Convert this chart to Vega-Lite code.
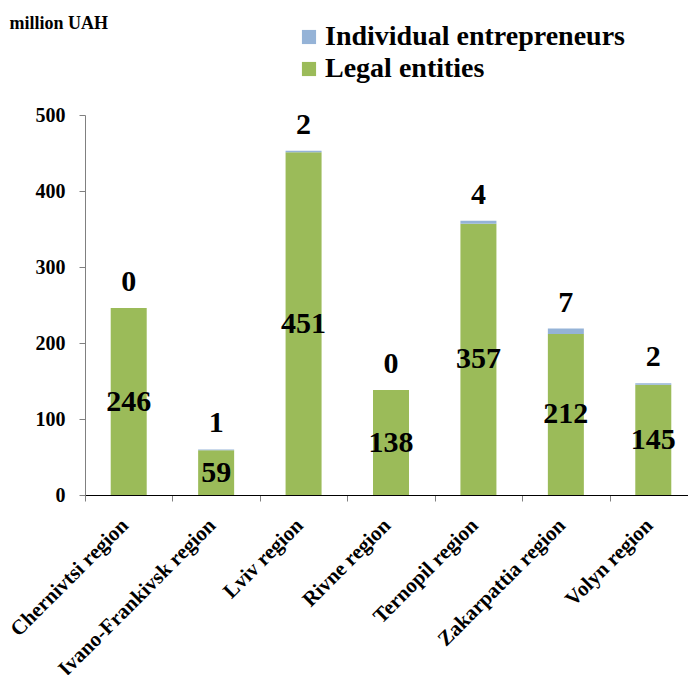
{
  "$schema": "https://vega.github.io/schema/vega-lite/v6.json",
  "autosize": "none",
  "width": 612,
  "height": 380,
  "padding": {"left": 85, "top": 115, "right": 0, "bottom": 180},
  "background": "white",
  "config": {
    "font": "Times New Roman, Liberation Serif, serif",
    "view": {"stroke": null}
  },
  "data": {
    "values": [
      {"region": "Chernivtsi region", "type": "Legal entities", "value": 246},
      {"region": "Chernivtsi region", "type": "Individual entrepreneurs", "value": 0},
      {"region": "Ivano-Frankivsk region", "type": "Legal entities", "value": 59},
      {"region": "Ivano-Frankivsk region", "type": "Individual entrepreneurs", "value": 1},
      {"region": "Lviv region", "type": "Legal entities", "value": 451},
      {"region": "Lviv region", "type": "Individual entrepreneurs", "value": 2},
      {"region": "Rivne region", "type": "Legal entities", "value": 138},
      {"region": "Rivne region", "type": "Individual entrepreneurs", "value": 0},
      {"region": "Ternopil region", "type": "Legal entities", "value": 357},
      {"region": "Ternopil region", "type": "Individual entrepreneurs", "value": 4},
      {"region": "Zakarpattia region", "type": "Legal entities", "value": 212},
      {"region": "Zakarpattia region", "type": "Individual entrepreneurs", "value": 7},
      {"region": "Volyn region", "type": "Legal entities", "value": 145},
      {"region": "Volyn region", "type": "Individual entrepreneurs", "value": 2}
    ]
  },
  "encoding": {
    "x": {
      "field": "region",
      "type": "nominal",
      "sort": null,
      "scale": {"paddingInner": 0, "paddingOuter": 0},
      "axis": {
        "title": null,
        "labelAngle": -45,
        "labelAlign": "right",
        "labelBaseline": "middle",
        "labelFont": "Times New Roman, Liberation Serif, serif",
        "labelFontSize": 21,
        "labelFontWeight": "bold",
        "labelColor": "black",
        "labelPadding": 21,
        "labelOffset": -4,
        "tickBand": "extent",
        "tickSize": 6,
        "tickColor": "#808080",
        "domainColor": "black",
        "labelLimit": 400
      }
    }
  },
  "layer": [
    {
      "mark": {"type": "bar", "size": 36},
      "encoding": {
        "y": {
          "field": "value",
          "type": "quantitative",
          "stack": "zero",
          "scale": {"domain": [0, 500], "nice": false},
          "axis": {
            "title": "million UAH",
            "titleAngle": 0,
            "titleX": -76,
            "titleY": -92,
            "titleAlign": "left",
            "titleBaseline": "middle",
            "titleFont": "Times New Roman, Liberation Serif, serif",
            "titleFontSize": 18,
            "titleFontWeight": "bold",
            "titleColor": "black",
            "values": [0, 100, 200, 300, 400, 500],
            "grid": false,
            "labelFont": "Times New Roman, Liberation Serif, serif",
            "labelFontSize": 20,
            "labelFontWeight": "bold",
            "labelColor": "black",
            "labelPadding": 14,
            "tickSize": 6,
            "tickColor": "#808080",
            "domainColor": "#808080"
          }
        },
        "color": {
          "field": "type",
          "type": "nominal",
          "scale": {
            "domain": ["Individual entrepreneurs", "Legal entities"],
            "range": ["#95B3D7", "#9BBB59"]
          },
          "legend": {
            "title": null,
            "orient": "none",
            "legendX": 210,
            "legendY": -92,
            "symbolType": "square",
            "symbolSize": 200,
            "symbolStrokeWidth": 0,
            "labelFont": "Times New Roman, Liberation Serif, serif",
            "labelFontSize": 28,
            "labelFontWeight": "bold",
            "labelColor": "black",
            "labelLimit": 500,
            "rowPadding": 4,
            "labelOffset": 2
          }
        },
        "order": {"field": "type", "sort": "descending"}
      }
    },
    {
      "mark": {"type": "text", "baseline": "middle", "dy": -26, "fontSize": 30, "fontWeight": "bold", "font": "Times New Roman, Liberation Serif, serif", "color": "black"},
      "encoding": {
        "y": {"field": "value", "type": "quantitative", "stack": "zero", "scale": {"domain": [0, 500], "nice": false}, "axis": null},
        "detail": {"field": "type"},
        "order": {"field": "type", "sort": "descending"},
        "text": {
          "condition": {"test": "datum.type === 'Legal entities'", "value": ""},
          "field": "value",
          "type": "quantitative"
        }
      }
    },
    {
      "transform": [{"filter": "datum.type === 'Legal entities'"}],
      "mark": {"type": "text", "baseline": "middle", "fontSize": 30, "fontWeight": "bold", "font": "Times New Roman, Liberation Serif, serif", "color": "black"},
      "encoding": {
        "y": {"field": "value", "type": "quantitative", "scale": {"domain": [0, 1000], "nice": false}, "axis": null},
        "text": {"field": "value", "type": "quantitative"}
      }
    }
  ],
  "resolve": {"scale": {"y": "independent"}}
}
